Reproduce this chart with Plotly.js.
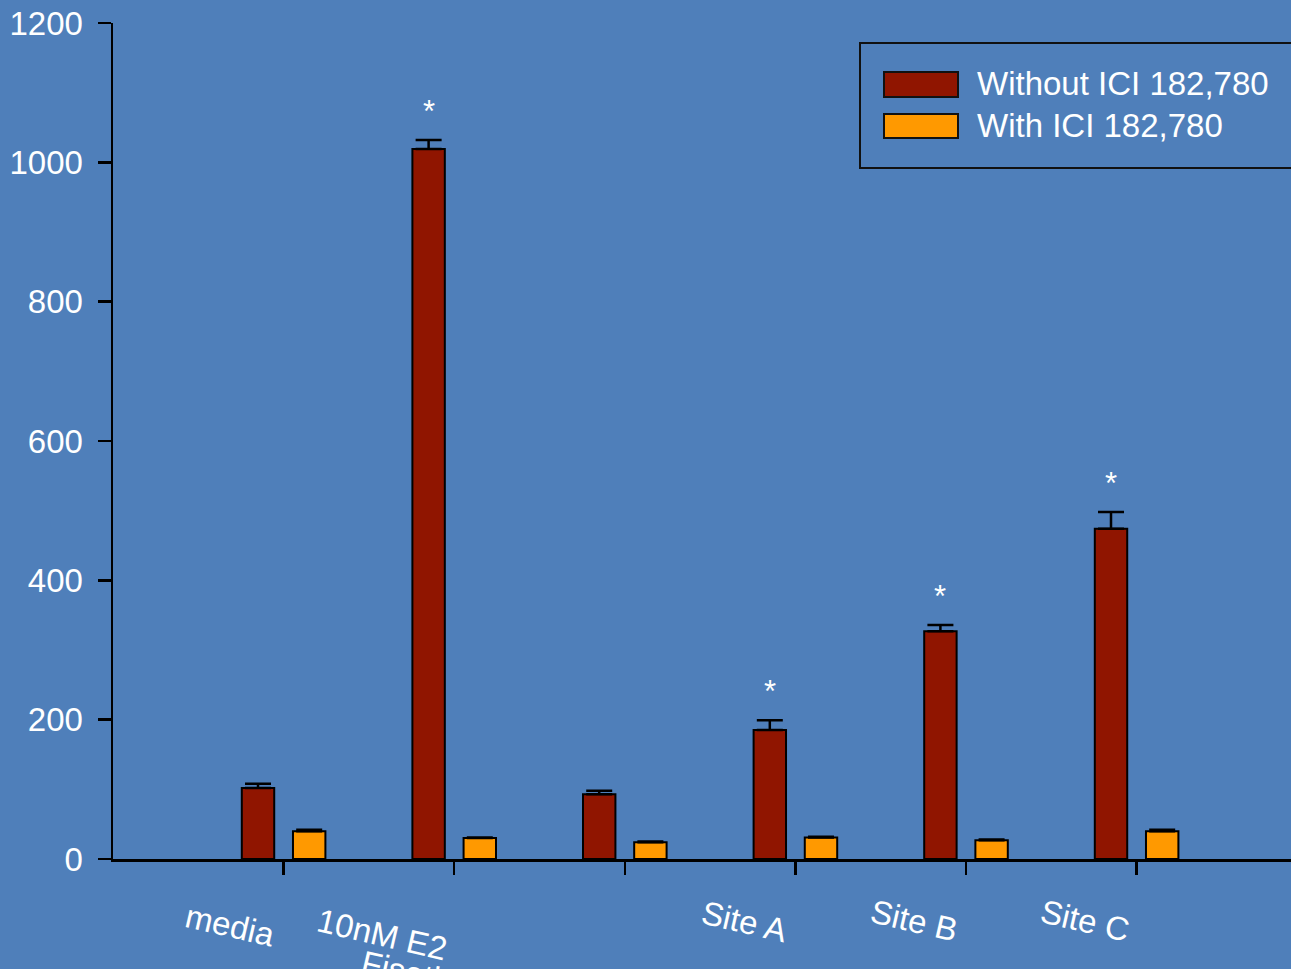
<!DOCTYPE html>
<html>
<head>
<meta charset="utf-8">
<script src="https://cdn.plot.ly/plotly-3.0.1.min.js"></script>
<style>
html,body{margin:0;padding:0;background:#4f7fba;overflow:hidden;}
#chart{width:1291px;height:969px;}
</style>
</head>
<body>
<div id="chart"></div>
<script>
// ---- data ----
const categories = ['media', '10nM E2', 'Fisetin', 'Site A', 'Site B', 'Site C'];
const withoutICI = [102, 1019, 93, 185, 327, 474];
const withoutErr = [6, 13, 5, 14, 9, 24];
const withICI = [40, 30, 24, 31, 27, 40];
const withErr = [2, 1, 1, 1, 1, 2];
const significant = [false, true, false, true, true, true];
const seriesNames = ['Without ICI 182,780', 'With ICI 182,780'];
const yTicks = [0, 200, 400, 600, 800, 1000, 1200];

// ---- style ----
const BG = '#4f7fba';
const RED = '#901500';
const ORANGE = '#ff9900';
const FONT = 'Liberation Sans, Arial, sans-serif';
const FS = 33;
const W = 1291, H = 969;
const M = {l: 113, r: 0, t: 23, b: 110};
const plotW = W - M.l - M.r, plotH = H - M.t - M.b;
const px2x = p => (p - M.l) / plotW;
const px2y = p => (H - M.b - p) / plotH;

const barW = 0.19;
const redOff = -0.245, orgOff = 0.055;

const traces = [
  {
    type: 'bar', name: seriesNames[0], x: categories, y: withoutICI,
    width: barW, offset: redOff,
    marker: {color: RED, line: {color: '#000', width: 2}},
    error_y: {type: 'data', symmetric: false, array: withoutErr,
              arrayminus: withoutErr.map(() => 0), color: '#000', thickness: 2.5, width: 13},
    showlegend: false
  },
  {
    type: 'bar', name: seriesNames[1], x: categories, y: withICI,
    width: barW, offset: orgOff,
    marker: {color: ORANGE, line: {color: '#000', width: 2}},
    error_y: {type: 'data', symmetric: false, array: withErr,
              arrayminus: withErr.map(() => 0), color: '#000', thickness: 2.5, width: 13},
    showlegend: false
  }
];

const annotations = [];
// significance stars
significant.forEach((s, i) => {
  if (!s) return;
  annotations.push({
    xref: 'x', yref: 'y', x: i + redOff + barW / 2, y: withoutICI[i] + withoutErr[i],
    text: '*', showarrow: false, yanchor: 'bottom', yshift: 9,
    font: {family: FONT, size: 31, color: '#fff'}
  });
});
// rotated category labels (as in the original, offset left of ticks)
const labelPos = [
  {dx: -53, py: 925}, {dx: -72, py: 935}, {dx: -215, py: 972},
  {dx: -51, py: 922}, {dx: -52, py: 921}, {dx: -52, py: 921}
];
categories.forEach((c, i) => {
  annotations.push({
    xref: 'x', yref: 'paper', x: i, xshift: labelPos[i].dx, y: px2y(labelPos[i].py),
    text: c, showarrow: false, textangle: 13, xanchor: 'center', yanchor: 'middle',
    font: {family: FONT, size: FS, color: '#fff'}
  });
});
// legend text
[84, 126].forEach((py, k) => {
  annotations.push({
    xref: 'paper', yref: 'paper', x: px2x(975), y: px2y(py),
    text: seriesNames[k], showarrow: false, xanchor: 'left', yanchor: 'middle',
    font: {family: FONT, size: FS, color: '#fff'}
  });
});

const shapes = [
  {type: 'rect', xref: 'paper', yref: 'paper', x0: px2x(860), x1: px2x(1300), y0: px2y(168), y1: px2y(43),
   line: {color: '#111', width: 2}, fillcolor: 'rgba(0,0,0,0)'},
  {type: 'rect', xref: 'paper', yref: 'paper', x0: px2x(884), x1: px2x(958), y0: px2y(97), y1: px2y(72),
   line: {color: '#111', width: 2}, fillcolor: RED},
  {type: 'rect', xref: 'paper', yref: 'paper', x0: px2x(884), x1: px2x(958), y0: px2y(138), y1: px2y(114),
   line: {color: '#111', width: 2}, fillcolor: ORANGE}
];

const layout = {
  width: W, height: H,
  margin: M,
  paper_bgcolor: BG, plot_bgcolor: BG,
  barmode: 'overlay',
  showlegend: false,
  font: {family: FONT, size: FS, color: '#fff'},
  xaxis: {
    type: 'category', range: [-1, -1 + plotW / 170.6],
    showgrid: false, zeroline: false, showline: true, linecolor: '#000', linewidth: 2.5,
    ticks: 'outside', ticklen: 13, tickwidth: 2.5, tickcolor: '#000',
    showticklabels: false, fixedrange: true
  },
  yaxis: {
    range: [0, 1200], tickvals: yTicks,
    showgrid: false, zeroline: false, showline: true, linecolor: '#000', linewidth: 2.5,
    ticks: 'outside', ticklen: 13, tickwidth: 2.5, tickcolor: '#000',
    tickfont: {family: FONT, size: FS, color: '#fff'}, ticklabelstandoff: 8,
    fixedrange: true
  },
  annotations: annotations,
  shapes: shapes
};

Plotly.newPlot('chart', traces, layout, {displayModeBar: false, staticPlot: true});
</script>
</body>
</html>
